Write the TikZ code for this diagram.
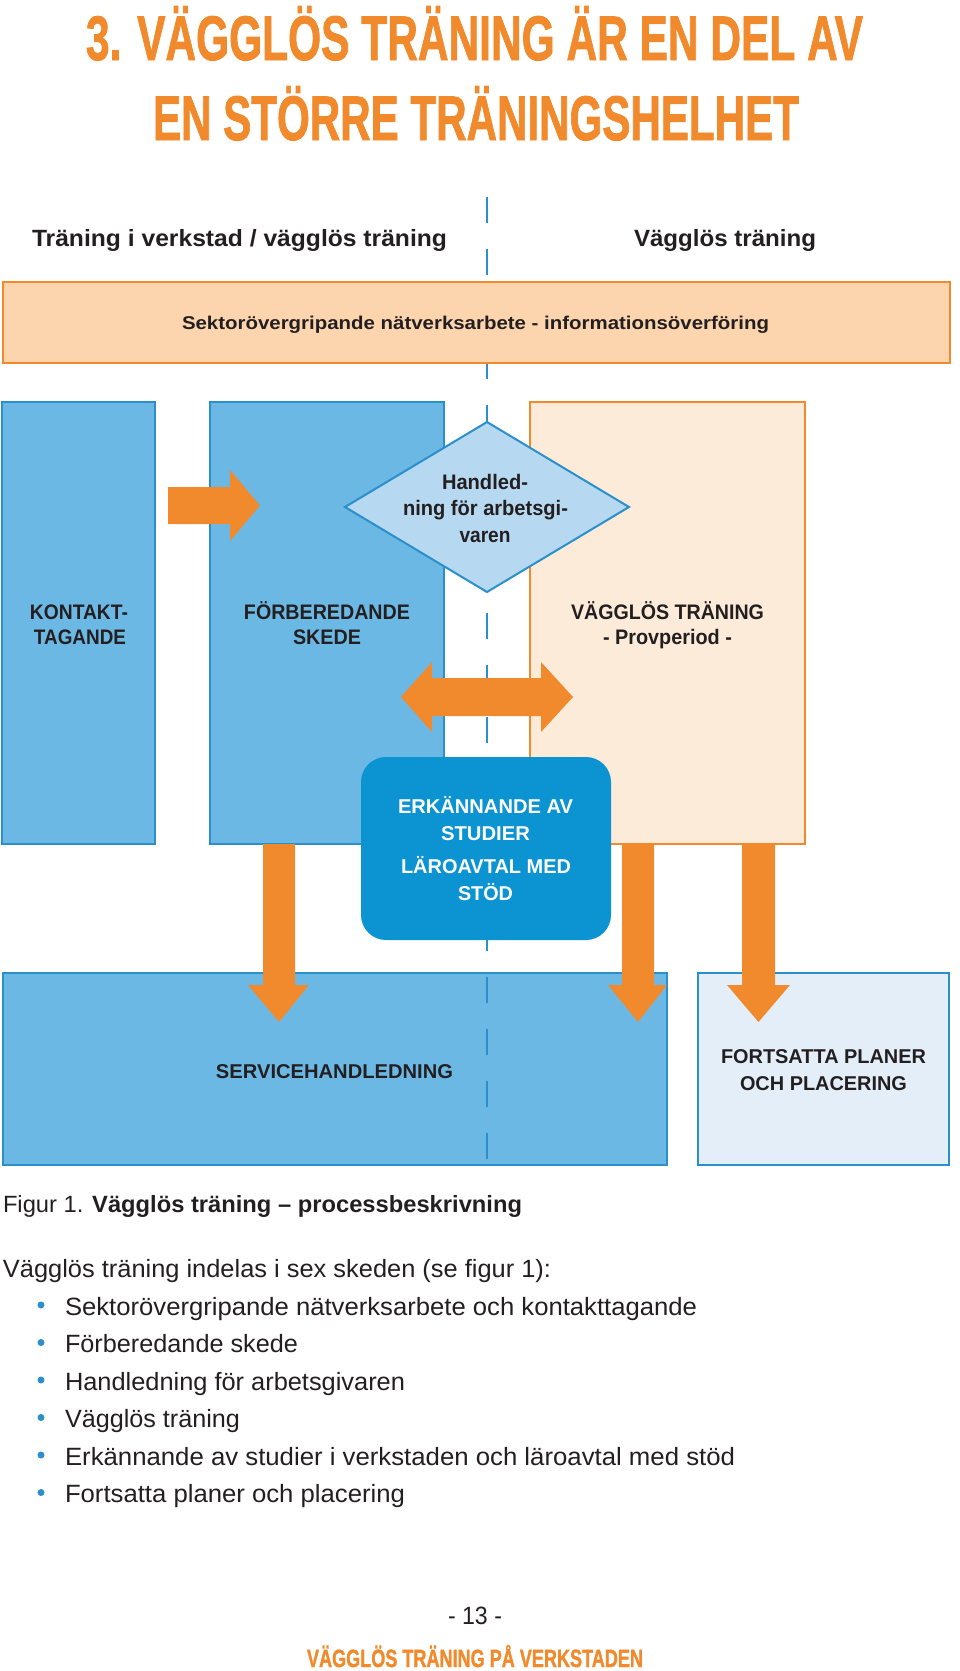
\documentclass[tikz,border=0pt]{standalone}
\usepackage{fontspec}
\setmainfont{Liberation Sans}
\newfontfamily\titlefont[FakeBold=1.5]{Liberation Sans Bold}
\usepackage{graphicx}
\newcommand{\fitw}[2]{\resizebox{#1}{\height}{#2}}
\newcommand{\fs}[1]{\fontsize{#1}{#1}\selectfont}
\definecolor{orng}{HTML}{F08A2C}
\definecolor{peach}{HTML}{FCD5AF}
\definecolor{peachlt}{HTML}{FDEBDA}
\definecolor{bluefill}{HTML}{6CB8E5}
\definecolor{blueline}{HTML}{2A8FCB}
\definecolor{bluedark}{HTML}{0B93D2}
\definecolor{diamfill}{HTML}{B6D8F1}
\definecolor{paleblue}{HTML}{E3EEF8}
\definecolor{txt}{HTML}{231F20}
\begin{document}
\begin{tikzpicture}[x=1pt,y=-1pt,
  tx/.style={inner sep=0pt, outer sep=0pt, text=txt},
  wtx/.style={inner sep=0pt, outer sep=0pt, text=white},
  otx/.style={inner sep=0pt, outer sep=0pt, text=orng},
  bluebox/.style={draw=blueline, fill=bluefill, line width=2.5pt, inner sep=0pt},
  palebox/.style={draw=blueline, fill=paleblue, line width=2.5pt, inner sep=0pt},
  peachbox/.style={draw=orng, fill=peach, line width=2.5pt, inner sep=0pt},
  peachltbox/.style={draw=orng, fill=peachlt, line width=2.5pt, inner sep=0pt},
  erkbox/.style={fill=bluedark, rounded corners=25pt, inner sep=0pt},
  dashline/.style={draw=blueline, line width=2pt, dash pattern=on 26pt off 26pt},
  blockarrow/.style={fill=orng},
  bul/.style={circle, fill=blueline, inner sep=0pt, minimum size=7pt}
]
\useasboundingbox (0,0) rectangle (960,1671);

% lower boxes
\node[bluebox, minimum width=664pt, minimum height=192pt] (service) at (335,1069) {};
\node[palebox, minimum width=251pt, minimum height=192pt] (fort) at (823.5,1069) {};

% dashed divider
\coordinate (dtop) at (487,197);
\coordinate (dbot) at (487,1165);
\draw[dashline] (dtop) -- (dbot);

% top band
\node[peachbox, minimum width=947pt, minimum height=81pt] (sektor) at (476.5,322.5) {};

% middle boxes
\node[bluebox, minimum width=153pt, minimum height=442pt] (kontakt) at (78.5,623) {};
\node[bluebox, minimum width=234pt, minimum height=442pt] (forb) at (327,623) {};
\node[peachltbox, minimum width=275pt, minimum height=442pt] (vagg) at (667.5,623) {};

% diamond
\draw[draw=blueline, fill=diamfill, line width=2pt]
  (487,422) -- (629,507) -- (487,592) -- (345,507) -- cycle;

% right arrow
\fill[blockarrow] (168,487) -- (230,487) -- (230,470) -- (260,505.5) -- (230,541) -- (230,524) -- (168,524) -- cycle;

% double arrow
\fill[blockarrow] (401,697) -- (432,662) -- (432,678) -- (541,678) -- (541,662) -- (573,697)
  -- (541,732) -- (541,716) -- (432,716) -- (432,732) -- cycle;

% recognition box
\node[erkbox, minimum width=250pt, minimum height=183pt] (erk) at (486,848.5) {};

% down arrows
\fill[blockarrow] (263,844) -- (295,844) -- (295,985) -- (309,985) -- (279,1022) -- (248,985) -- (263,985) -- cycle;
\fill[blockarrow] (622,844) -- (654,844) -- (654,985) -- (667,985) -- (638,1022) -- (608,985) -- (622,985) -- cycle;
\fill[blockarrow] (742,844) -- (775,844) -- (775,985) -- (790,985) -- (758.5,1022) -- (727,985) -- (742,985) -- cycle;

% title
\node[otx, anchor=base west] (title1) at (86,60) {\fitw{777pt}{\titlefont\fs{63}3. VÄGGLÖS TRÄNING ÄR EN DEL AV}};
\node[otx, anchor=base west] (title2) at (153,140) {\fitw{646pt}{\titlefont\fs{63}EN STÖRRE TRÄNINGSHELHET}};

% headers
\node[tx, anchor=base west] (hl) at (32,246) {\fitw{415pt}{\bfseries\fs{23.5}Träning i verkstad / vägglös träning}};
\node[tx, anchor=base west] (hr) at (634,246) {\fitw{182pt}{\bfseries\fs{23.5}Vägglös träning}};

\node[tx, anchor=base west] (sektortxt) at (182,329) {\fitw{587pt}{\bfseries\fs{18.5}Sektorövergripande nätverksarbete - informationsöverföring}};

\node[tx, anchor=base] (k1) at (79,619) {\fitw{98pt}{\bfseries\fs{21}KONTAKT-}};
\node[tx, anchor=base] (k2) at (80,644) {\fitw{92pt}{\bfseries\fs{21}TAGANDE}};
\node[tx, anchor=base] (f1) at (327,619) {\fitw{166pt}{\bfseries\fs{21}FÖRBEREDANDE}};
\node[tx, anchor=base] (f2) at (327,644) {\fitw{68pt}{\bfseries\fs{21}SKEDE}};
\node[tx, anchor=base] (v1) at (667.5,619) {\fitw{193pt}{\bfseries\fs{21}VÄGGLÖS TRÄNING}};
\node[tx, anchor=base] (v2) at (667.5,644) {\fitw{129pt}{\bfseries\fs{21}- Provperiod -}};

\node[tx, anchor=base] (d1) at (485,489) {\fitw{86pt}{\bfseries\fs{21}Handled-}};
\node[tx, anchor=base] (d2) at (485.5,515) {\fitw{165pt}{\bfseries\fs{21}ning för arbetsgi-}};
\node[tx, anchor=base] (d3) at (485,542) {\fitw{51pt}{\bfseries\fs{21}varen}};

\node[wtx, anchor=base] (e1) at (485.5,813) {\fitw{175pt}{\bfseries\fs{20}ERKÄNNANDE AV}};
\node[wtx, anchor=base] (e2) at (485.5,840) {\fitw{89pt}{\bfseries\fs{20}STUDIER}};
\node[wtx, anchor=base] (e3) at (486,873) {\fitw{170pt}{\bfseries\fs{20}LÄROAVTAL MED}};
\node[wtx, anchor=base] (e4) at (485.5,900) {\fitw{55pt}{\bfseries\fs{20}STÖD}};

\node[tx, anchor=base] (s1) at (334.5,1078) {\fitw{237pt}{\bfseries\fs{20}SERVICEHANDLEDNING}};
\node[tx, anchor=base] (p1) at (823.5,1063) {\fitw{205pt}{\bfseries\fs{20}FORTSATTA PLANER}};
\node[tx, anchor=base] (p2) at (823.5,1090) {\fitw{167pt}{\bfseries\fs{20}OCH PLACERING}};

% caption and body
\node[tx, anchor=base west] (cap) at (3,1212) {\fitw{519pt}{\fs{23.5}Figur 1. {\bfseries Vägglös träning – processbeskrivning}}};
\node[tx, anchor=base west] (body) at (3,1277) {\fitw{548pt}{\fs{25}Vägglös träning indelas i sex skeden (se figur 1):}};

\node[bul] (b1) at (41,1305) {};
\node[bul] (b2) at (41,1342.5) {};
\node[bul] (b3) at (41,1380) {};
\node[bul] (b4) at (41,1417.5) {};
\node[bul] (b5) at (41,1455) {};
\node[bul] (b6) at (41,1492.5) {};
\node[tx, anchor=base west] (l1) at (65,1315) {\fitw{632pt}{\fs{25}Sektorövergripande nätverksarbete och kontakttagande}};
\node[tx, anchor=base west] (l2) at (65,1352.5) {\fitw{233pt}{\fs{25}Förberedande skede}};
\node[tx, anchor=base west] (l3) at (65,1390) {\fitw{340pt}{\fs{25}Handledning för arbetsgivaren}};
\node[tx, anchor=base west] (l4) at (65,1427.5) {\fitw{175pt}{\fs{25}Vägglös träning}};
\node[tx, anchor=base west] (l5) at (65,1465) {\fitw{670pt}{\fs{25}Erkännande av studier i verkstaden och läroavtal med stöd}};
\node[tx, anchor=base west] (l6) at (65,1502.5) {\fitw{340pt}{\fs{25}Fortsatta planer och placering}};

% footer
\node[tx, anchor=base] (pg) at (475,1624) {\fitw{54pt}{\fs{25}- 13 -}};
\node[otx, anchor=base] (foot) at (475,1667) {\fitw{336pt}{\titlefont\fs{25}VÄGGLÖS TRÄNING PÅ VERKSTADEN}};
\end{tikzpicture}
\end{document}
